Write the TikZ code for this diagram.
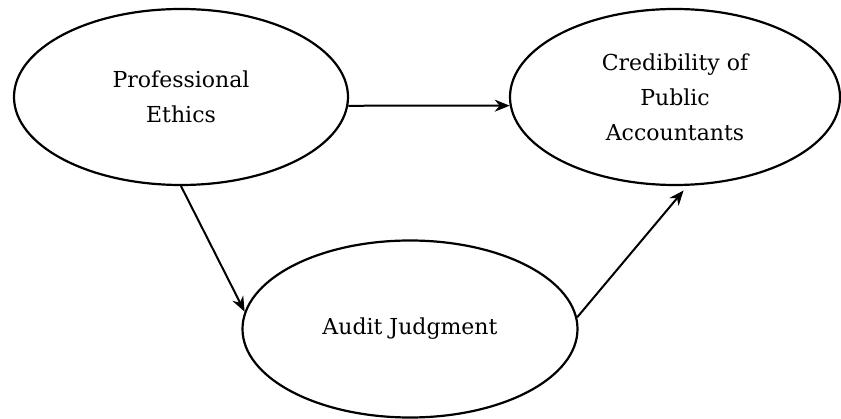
\documentclass[tikz,border=0pt]{standalone}
\usepackage{fontspec}
\setmainfont{DejaVu Serif}
\usetikzlibrary{shapes.geometric,arrows.meta}
\begin{document}
\begin{tikzpicture}[x=1pt,y=-1pt,
  oval/.style={draw, ellipse, line width=2.2pt, inner sep=0pt, font=\fontsize{22}{35}\selectfont, align=center},
  conn/.style={line width=2pt, -{Stealth[length=15pt,width=12pt]}}]
\useasboundingbox (0,0) rectangle (841,419);
\node[oval, minimum width=334pt, minimum height=176pt] (pe) at (181,97) {Professional\\Ethics};
\node[oval, minimum width=330pt, minimum height=176pt] (cr) at (675,97) {Credibility of\\Public\\Accountants};
\node[oval, minimum width=335pt, minimum height=177pt] (aj) at (410,329) {Audit Judgment};
\draw[conn] (pe.-3.4) -- (cr.183.5);
\draw[conn] (pe.-90.6) -- (aj.174);
\draw[conn, shorten >=6pt] (aj.4.8) -- (cr.-82.8);
\end{tikzpicture}
\end{document}
